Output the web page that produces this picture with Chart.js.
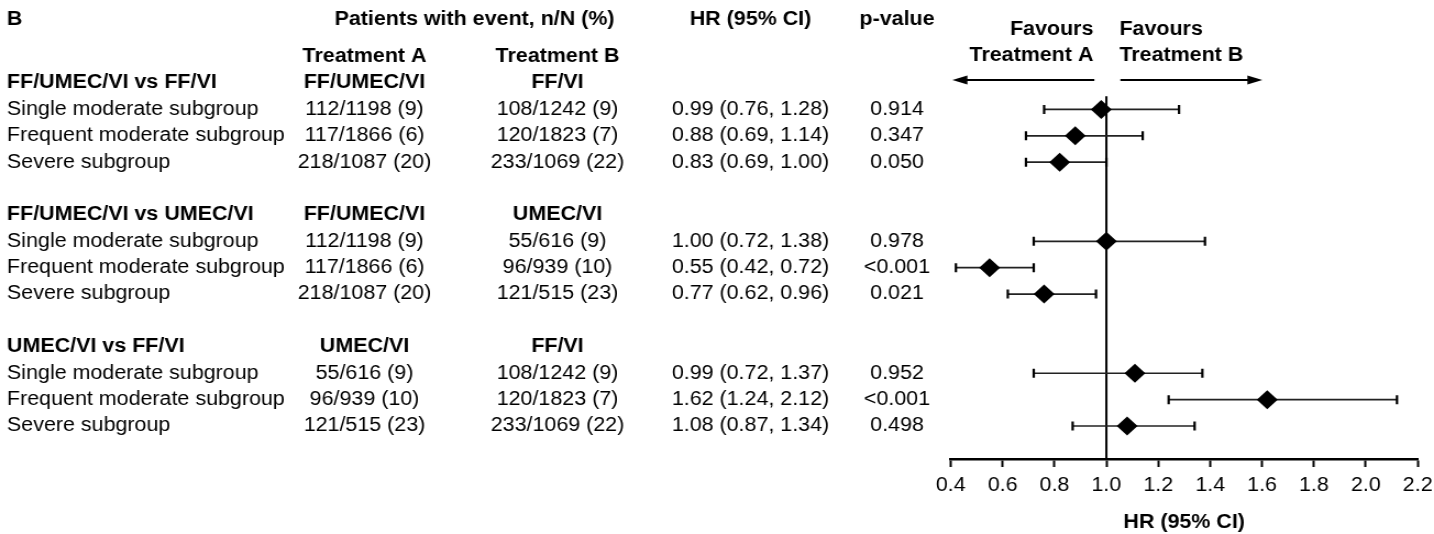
<!DOCTYPE html>
<html>
<head>
<meta charset="utf-8">
<script src="https://cdn.jsdelivr.net/npm/chart.js@4.4.1/dist/chart.umd.min.js"></script>
<style>
  html, body { margin: 0; padding: 0; background: #fff; overflow: hidden; }
  #wrap { width: 1304px; height: 534px; transform: scaleX(1.0997); transform-origin: 0 0; }
</style>
</head>
<body>
<div id="wrap"><canvas id="forest" width="1304" height="534"></canvas></div>
<script>
// comparisons and their arms
const comparisons = ['FF/UMEC/VI vs FF/VI', 'FF/UMEC/VI vs UMEC/VI', 'UMEC/VI vs FF/VI'];
const armA = ['FF/UMEC/VI', 'FF/UMEC/VI', 'UMEC/VI'];
const armB = ['FF/VI', 'UMEC/VI', 'FF/VI'];
const subgroups = ['Single moderate subgroup', 'Frequent moderate subgroup', 'Severe subgroup'];

// table columns, one entry per subgroup row
const eventsA = ['112/1198 (9)', '117/1866 (6)', '218/1087 (20)',
                 '112/1198 (9)', '117/1866 (6)', '218/1087 (20)',
                 '55/616 (9)', '96/939 (10)', '121/515 (23)'];
const eventsB = ['108/1242 (9)', '120/1823 (7)', '233/1069 (22)',
                 '55/616 (9)', '96/939 (10)', '121/515 (23)',
                 '108/1242 (9)', '120/1823 (7)', '233/1069 (22)'];
const hrLabels = ['0.99 (0.76, 1.28)', '0.88 (0.69, 1.14)', '0.83 (0.69, 1.00)',
                  '1.00 (0.72, 1.38)', '0.55 (0.42, 0.72)', '0.77 (0.62, 0.96)',
                  '0.99 (0.72, 1.37)', '1.62 (1.24, 2.12)', '1.08 (0.87, 1.34)'];
const pValues = ['0.914', '0.347', '0.050', '0.978', '<0.001', '0.021', '0.952', '<0.001', '0.498'];

// plotted point estimates and CIs (as drawn)
const hr = [0.98, 0.88, 0.82, 1.00, 0.55, 0.76, 1.11, 1.62, 1.08];
const ciLow = [0.76, 0.69, 0.69, 0.72, 0.42, 0.62, 0.72, 1.24, 0.87];
const ciHigh = [1.28, 1.14, 1.00, 1.38, 0.72, 0.96, 1.37, 2.12, 1.34];

const xTicks = [0.4, 0.6, 0.8, 1.0, 1.2, 1.4, 1.6, 1.8, 2.0, 2.2];

const FONT = "'Liberation Sans', Arial, sans-serif";
const SIZE = 19.5;
const S = 1434 / 1304; // horizontal stretch of the figure

// row index on the y axis: header of group g sits at g*5, subgroups follow
const rowOf = (i) => Math.floor(i / 3) * 5 + 1 + (i % 3);

const datasets = [{
  label: 'HR',
  data: hr.map((v, i) => ({ x: v, y: rowOf(i) })),
  pointStyle: 'rectRot',
  pointRadius: 9.5,
  pointHoverRadius: 9.5,
  backgroundColor: '#000',
  borderWidth: 0,
  order: 0,
}];
hr.forEach((v, i) => {
  datasets.push({
    label: 'CI ' + i,
    data: [{ x: ciLow[i], y: rowOf(i) }, { x: ciHigh[i], y: rowOf(i) }],
    showLine: true,
    borderColor: '#222',
    borderWidth: 1.7,
    pointStyle: 'line',
    pointRotation: 90,
    pointRadius: 4.5,
    pointBorderWidth: 2.2,
    pointBorderColor: '#000',
    order: 1,
  });
});

const tablePlugin = {
  id: 'tableText',
  beforeDatasetsDraw(chart) {
    const { ctx, chartArea, scales } = chart;
    const x1 = scales.x.getPixelForValue(1);
    ctx.save();
    ctx.strokeStyle = '#000';
    ctx.lineWidth = 2;
    ctx.beginPath();
    ctx.moveTo(x1, chartArea.top);
    ctx.lineTo(x1, chartArea.bottom);
    ctx.stroke();
    ctx.restore();
  },
  afterDraw(chart) {
    const { ctx, scales } = chart;
    const y = (r) => scales.y.getPixelForValue(r);
    const x1 = scales.x.getPixelForValue(1);
    const colLeft = 7 / S, colA = 364.5 / S, colB = 557.5 / S, colHR = 750.5 / S, colP = 897 / S;

    const text = (t, x, yy, align, bold) => {
      ctx.font = (bold ? 'bold ' : '') + SIZE + 'px ' + FONT;
      ctx.textAlign = align;
      ctx.textBaseline = 'middle';
      ctx.fillText(t, x, yy);
    };

    ctx.save();
    ctx.fillStyle = '#000';

    // top headers
    text('B', colLeft, 20, 'left', true);
    text('Patients with event, n/N (%)', 474.5 / S, 20, 'center', true);
    text('HR (95% CI)', colHR, 20, 'center', true);
    text('p-value', colP, 20, 'center', true);
    text('Treatment A', colA, y(-1), 'center', true);
    text('Treatment B', colB, y(-1), 'center', true);

    // favours labels
    text('Favours', x1 - 13 / S, 30, 'right', true);
    text('Treatment A', x1 - 13 / S, 56, 'right', true);
    text('Favours', x1 + 13 / S, 30, 'left', true);
    text('Treatment B', x1 + 13 / S, 56, 'left', true);

    // arrows
    const ay = 80;
    const arrow = (from, to) => {
      const dir = Math.sign(to - from);
      ctx.strokeStyle = '#000';
      ctx.lineWidth = 2;
      ctx.beginPath();
      ctx.moveTo(from, ay);
      ctx.lineTo(to - dir * 10, ay);
      ctx.stroke();
      ctx.beginPath();
      ctx.moveTo(to, ay);
      ctx.lineTo(to - dir * 15 / S, ay - 4.5);
      ctx.lineTo(to - dir * 15 / S, ay + 4.5);
      ctx.closePath();
      ctx.fill();
    };
    arrow(x1 - 12 / S, x1 - 154 / S);
    arrow(x1 + 14 / S, x1 + 156 / S);

    // group headers
    comparisons.forEach((c, g) => {
      text(c, colLeft, y(g * 5), 'left', true);
      text(armA[g], colA, y(g * 5), 'center', true);
      text(armB[g], colB, y(g * 5), 'center', true);
    });

    // subgroup rows
    hr.forEach((v, i) => {
      const yy = y(rowOf(i));
      text(subgroups[i % 3], colLeft, yy, 'left', false);
      text(eventsA[i], colA, yy, 'center', false);
      text(eventsB[i], colB, yy, 'center', false);
      text(hrLabels[i], colHR, yy, 'center', false);
      text(pValues[i], colP, yy, 'center', false);
    });
    ctx.restore();
  }
};

new Chart(document.getElementById('forest'), {
  type: 'scatter',
  data: { datasets },
  options: {
    responsive: false,
    animation: false,
    events: [],
    layout: { padding: { left: 950.7 / S, right: 1304 - 1417.7 / S, top: 96.2, bottom: 0 } },
    plugins: { legend: { display: false }, tooltip: { enabled: false } },
    scales: {
      x: {
        type: 'linear',
        min: xTicks[0],
        max: xTicks[xTicks.length - 1],
        afterBuildTicks: (scale) => { scale.ticks = xTicks.map(v => ({ value: v })); },
        afterFit: (scale) => {
          scale.height = 75;
          // end labels fit inside the layout padding already
          scale.paddingLeft = 0;
          scale.paddingRight = 0;
        },
        grid: { drawOnChartArea: false, drawTicks: true, tickLength: 8, tickWidth: 2, tickColor: '#000' },
        border: { display: true, color: '#000', width: 2.5 },
        ticks: {
          color: '#000',
          padding: 7,
          font: { family: FONT, size: SIZE },
          callback: (v) => Number(v).toFixed(1),
        },
        title: {
          display: true,
          text: 'HR (95% CI)',
          color: '#000',
          font: { family: FONT, size: SIZE, weight: 'bold' },
          padding: { top: 0, bottom: 0 },
        },
      },
      y: {
        type: 'linear',
        display: false,
        reverse: true,
        min: 0.5,
        max: 14.25,
      },
    },
  },
  plugins: [tablePlugin],
});
</script>
</body>
</html>
